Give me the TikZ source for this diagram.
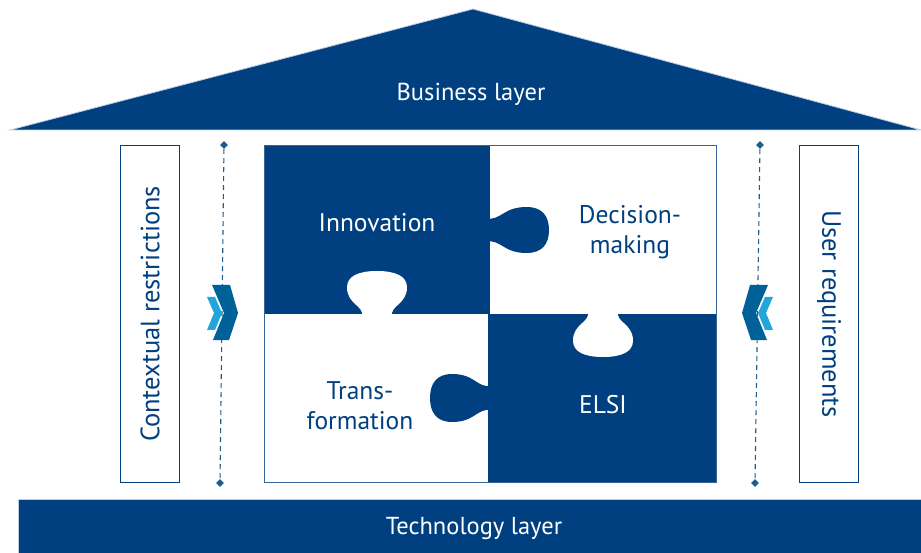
\documentclass[tikz,border=0pt]{standalone}
\usepackage{fontspec}
\setmainfont{PT Sans}
\usepackage{tikz}
\usetikzlibrary{shapes.geometric}
\usepackage{xcolor}
\definecolor{hsnavy}{RGB}{1,64,128}
\definecolor{hsteal}{RGB}{0,96,152}
\definecolor{hssky}{RGB}{34,165,218}
\definecolor{hsdash}{RGB}{30,92,140}
\definecolor{hspale}{RGB}{190,206,226}
\tikzstyle{layer} = [fill=hsnavy, draw=hspale, line width=0.8pt]
\tikzstyle{sidebox} = [draw=hsnavy, line width=1pt, minimum width=337pt, minimum height=59pt, text=hsnavy, font=\fontsize{26.5}{30}\selectfont]
\tikzstyle{piece} = [align=center, font=\fontsize{25.5}{30}\selectfont]
\tikzstyle{tip} = [diamond, fill=hsdash, inner sep=0pt, minimum size=8pt]
\tikzstyle{guide} = [hsdash, line width=1.1pt, dash pattern=on 5pt off 4pt]

\begin{document}
\begin{tikzpicture}[x=1pt, y=-1pt]
    \useasboundingbox (0,0) rectangle (921,553);

    % Roof and base
    \fill[layer] (10,130) -- (473,9) -- (921,130) -- cycle;
    \node[white, font=\fontsize{24.5}{28}\selectfont] (biz) at (471,94) {Business layer};
    \fill[layer] (18,499) rectangle (921,553);
    \node[white, font=\fontsize{24.5}{28}\selectfont] (tech) at (474,529) {Technology layer};

    % Puzzle
    \fill[white] (264,145) rectangle (716,482);
    \fill[hsnavy] (264,145) rectangle (490,314);
    \fill[hsnavy] (488,314) rectangle (716,482);
    \foreach \px/\py/\ang/\len/\wid/\col in {490/230/0/59/23/hsnavy, 377/314/90/43/30/white, 603/314/-90/43/30/white, 488/398/180/58/24/hsnavy}
        \fill[\col, shift={(\px,\py)}, rotate=\ang, xscale=\len, yscale=\wid]
            (-0.06,-0.5) .. controls (0.2,-0.42) and (0.22,-1) .. (0.62,-1)
            .. controls (0.88,-1) and (1,-0.62) .. (1,0)
            .. controls (1,0.62) and (0.88,1) .. (0.62,1)
            .. controls (0.22,1) and (0.2,0.42) .. (-0.06,0.5) -- cycle;
    \draw[hsnavy!80, line width=0.8pt] (264,145) rectangle (716,482);

    \node[piece, text=white] (innov) at (377,223) {Innovation};
    \node[piece, text=hsnavy] (decis) at (630,232) {Decision-\\making};
    \node[piece, text=hsnavy] (trans) at (360,406) {Trans-\\formation};
    \node[piece, text=white] (elsi) at (603,405) {ELSI};

    % Side boxes
    \node[sidebox, rotate=90] (ctx) at (150,314) {Contextual restrictions};
    \node[sidebox, rotate=-90] (user) at (829,314) {User requirements};

    % Dashed guides
    \node[tip] (ltop) at (224,145) {};
    \node[tip] (lbot) at (220,483) {};
    \node[tip] (rtop) at (760,145) {};
    \node[tip] (rbot) at (755,483) {};
    \draw[guide] (ltop) -- (lbot);
    \draw[guide] (rtop) -- (rbot);

    % Chevrons
    \foreach \cx/\flip in {225/1, 755/-1} {
        \begin{scope}[shift={(\cx,313)}, xscale=\flip]
            \fill[hsteal] (-13,-28) -- (5,-28) -- (13,0) -- (4,27) -- (-12,27) -- (-1,0) -- cycle;
            \fill[hssky] (-18,-16) -- (-10,-16) -- (-3,0) -- (-10,17) -- (-18,17) -- (-11,0) -- cycle;
        \end{scope}
    }
\end{tikzpicture}
\end{document}
